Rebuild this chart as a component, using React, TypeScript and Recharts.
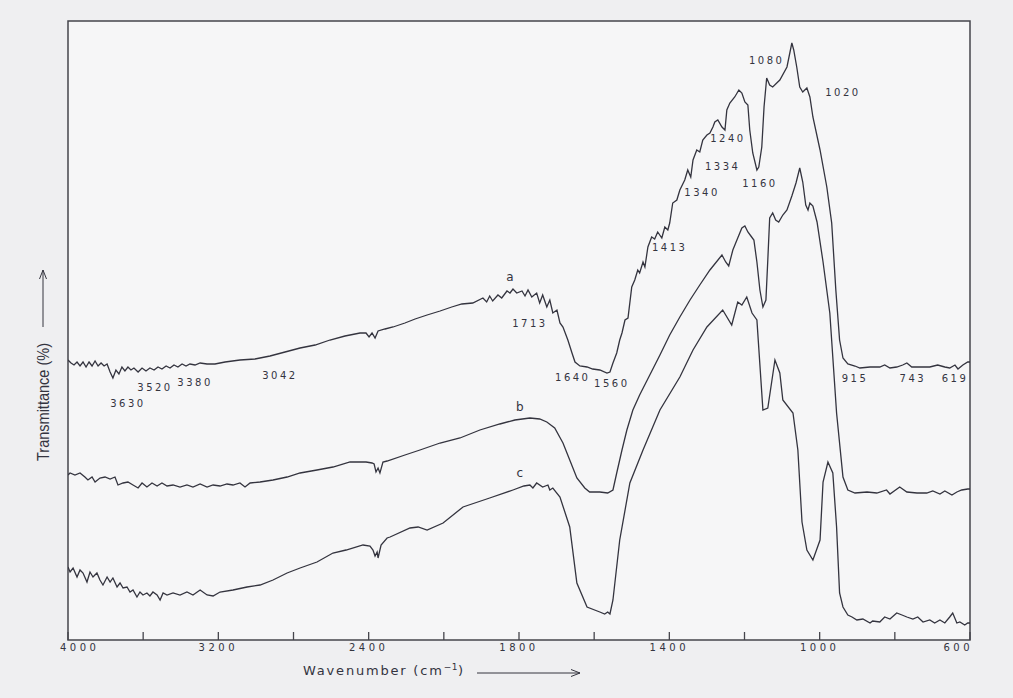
import React from 'react';
import { LineChart, Line, XAxis, YAxis, ReferenceArea, ReferenceDot } from 'recharts';

// Infrared transmittance traces, [wavenumber (cm-1), transmittance] pairs.
const SPECTRUM_A: [number, number][] = [
  [4000, 28.0], [3984, 27.7], [3968, 27.5], [3952, 27.8], [3936, 27.4], [3920, 27.8], [3904, 27.3], [3888, 27.8],
  [3872, 27.4], [3856, 27.9], [3840, 27.4], [3824, 27.7], [3808, 27.4], [3792, 27.6], [3776, 26.8], [3761, 26.2],
  [3745, 27.0], [3729, 26.6], [3713, 27.3], [3697, 26.9], [3681, 27.3], [3665, 27.0], [3649, 27.2], [3627, 26.8],
  [3606, 27.2], [3585, 26.9], [3564, 27.2], [3542, 27.0], [3521, 27.3], [3500, 27.1], [3478, 27.4], [3457, 27.2],
  [3436, 27.5], [3415, 27.3], [3393, 27.6], [3372, 27.4], [3351, 27.6], [3324, 27.5], [3297, 27.7], [3260, 27.6],
  [3218, 27.6], [3164, 27.8], [3085, 28.0], [3005, 28.1], [2925, 28.4], [2845, 28.8], [2765, 29.2], [2685, 29.5],
  [2606, 30.0], [2526, 30.4], [2446, 30.7], [2414, 30.7], [2398, 30.3], [2382, 30.7], [2366, 30.2], [2350, 30.9],
  [2313, 31.1], [2270, 31.3], [2207, 31.7], [2153, 32.1], [2089, 32.5], [2020, 32.9], [1979, 33.3], [1952, 33.6],
  [1923, 33.7], [1896, 34.2], [1886, 33.8], [1878, 34.4], [1870, 33.9], [1856, 34.5], [1846, 34.2], [1832, 34.9],
  [1824, 34.7], [1816, 35.1], [1806, 34.7], [1792, 34.9], [1784, 34.4], [1776, 35.0], [1766, 34.3], [1753, 34.7],
  [1745, 33.7], [1737, 34.5], [1726, 33.3], [1718, 34.0], [1710, 32.7], [1699, 33.0], [1691, 31.7], [1683, 31.3],
  [1670, 30.0], [1659, 28.7], [1651, 27.8], [1638, 27.4], [1619, 27.3], [1604, 27.1], [1585, 27.0], [1566, 26.7],
  [1558, 26.8], [1550, 27.7], [1540, 28.7], [1532, 30.0], [1526, 30.7], [1518, 32.0], [1510, 32.2], [1500, 35.3],
  [1492, 36.0], [1484, 37.0], [1479, 36.7], [1470, 37.8], [1465, 37.3], [1457, 39.3], [1447, 40.3], [1439, 40.1],
  [1431, 40.8], [1420, 40.2], [1412, 41.3], [1404, 41.0], [1399, 41.7], [1391, 43.7], [1380, 44.0], [1372, 45.0],
  [1359, 46.0], [1351, 47.0], [1343, 46.3], [1337, 48.0], [1327, 49.0], [1319, 48.8], [1311, 50.0], [1300, 50.5],
  [1292, 50.7], [1284, 51.3], [1279, 51.8], [1271, 52.0], [1260, 51.3], [1252, 51.0], [1247, 53.0], [1239, 53.7],
  [1226, 54.3], [1215, 55.0], [1207, 54.7], [1199, 53.8], [1191, 53.5], [1186, 51.0], [1178, 48.7], [1167, 47.0],
  [1162, 47.3], [1154, 49.3], [1148, 53.3], [1141, 56.2], [1133, 55.5], [1125, 55.3], [1106, 56.0], [1087, 57.3],
  [1074, 59.7], [1069, 59.0], [1061, 57.3], [1053, 55.3], [1045, 54.8], [1034, 55.2], [1026, 54.3], [1018, 52.3],
  [999, 49.0], [981, 45.3], [968, 41.7], [957, 35.0], [947, 30.0], [938, 28.2], [925, 27.6], [906, 27.4],
  [893, 27.2], [866, 27.3], [840, 27.3], [827, 27.5], [813, 27.2], [795, 27.3], [779, 27.5], [768, 27.7],
  [755, 27.3], [733, 27.3], [707, 27.3], [686, 27.5], [667, 27.3], [654, 27.2], [640, 27.5], [632, 27.1],
  [619, 27.5], [606, 27.8], [600, 27.8],
];

const SPECTRUM_B: [number, number][] = [
  [4000, 16.5], [3989, 16.7], [3963, 16.5], [3936, 16.7], [3910, 16.3], [3894, 16.0], [3872, 16.3], [3856, 15.8],
  [3830, 16.2], [3803, 16.3], [3776, 16.1], [3750, 16.3], [3734, 15.5], [3707, 15.7], [3681, 15.8], [3654, 15.5],
  [3627, 15.2], [3606, 15.7], [3580, 15.3], [3553, 15.7], [3526, 15.4], [3500, 15.7], [3473, 15.4], [3441, 15.5],
  [3404, 15.3], [3367, 15.5], [3335, 15.3], [3297, 15.6], [3260, 15.3], [3228, 15.5], [3191, 15.4], [3154, 15.6],
  [3122, 15.5], [3085, 15.7], [3058, 15.3], [3031, 15.7], [2978, 15.8], [2909, 16.0], [2834, 16.3], [2765, 16.7],
  [2675, 17.0], [2590, 17.3], [2499, 17.8], [2414, 17.8], [2382, 17.7], [2371, 17.6], [2361, 16.8], [2350, 17.2],
  [2340, 16.7], [2324, 17.8], [2302, 17.9], [2207, 18.5], [2127, 19.0], [2020, 19.7], [1957, 20.2], [1904, 21.0],
  [1851, 21.6], [1811, 22.0], [1771, 22.2], [1745, 22.1], [1726, 21.8], [1705, 21.2], [1683, 19.7], [1665, 18.0],
  [1646, 16.2], [1625, 15.2], [1612, 14.8], [1585, 14.8], [1564, 14.7], [1550, 15.0], [1540, 16.7], [1526, 19.0],
  [1513, 21.0], [1497, 23.0], [1479, 24.5], [1452, 26.5], [1425, 28.5], [1399, 30.5], [1372, 32.3], [1345, 34.0],
  [1319, 35.5], [1292, 37.0], [1260, 38.5], [1250, 37.8], [1242, 37.4], [1231, 39.0], [1218, 40.2], [1207, 41.2],
  [1199, 41.4], [1191, 40.8], [1183, 40.4], [1175, 40.0], [1167, 37.8], [1159, 35.0], [1151, 33.3], [1143, 34.0],
  [1138, 38.0], [1133, 42.2], [1125, 42.7], [1117, 42.0], [1109, 41.8], [1098, 42.5], [1087, 43.0], [1074, 44.4],
  [1063, 45.7], [1053, 47.2], [1045, 45.8], [1037, 43.5], [1031, 43.0], [1026, 43.7], [1018, 43.4], [1007, 41.8],
  [991, 37.8], [973, 32.7], [955, 22.7], [938, 16.3], [925, 15.0], [906, 14.7], [874, 14.8], [848, 14.7],
  [822, 15.0], [813, 14.6], [787, 15.3], [768, 14.8], [741, 14.7], [715, 14.7], [699, 14.9], [680, 14.6],
  [667, 14.9], [648, 14.5], [635, 14.8], [622, 15.0], [606, 15.1], [600, 15.1],
];

const SPECTRUM_C: [number, number][] = [
  [4000, 7.3], [3989, 6.8], [3973, 7.2], [3952, 6.3], [3936, 7.0], [3920, 6.7], [3899, 5.8], [3883, 6.8],
  [3867, 6.3], [3846, 6.7], [3830, 6.0], [3814, 5.5], [3792, 6.3], [3776, 5.8], [3761, 6.2], [3739, 5.3],
  [3723, 5.7], [3707, 5.2], [3686, 5.3], [3670, 4.8], [3654, 5.0], [3633, 4.3], [3617, 4.8], [3601, 4.5],
  [3580, 4.7], [3564, 4.4], [3548, 4.8], [3526, 4.5], [3510, 4.0], [3494, 4.7], [3473, 4.5], [3441, 4.7],
  [3404, 4.5], [3367, 4.8], [3335, 4.5], [3297, 5.0], [3260, 4.5], [3228, 4.4], [3191, 4.8], [3122, 5.0],
  [3047, 5.3], [2978, 5.5], [2909, 6.0], [2834, 6.7], [2765, 7.2], [2675, 7.8], [2590, 8.7], [2520, 9.0],
  [2430, 9.5], [2393, 9.4], [2377, 9.0], [2366, 8.4], [2355, 8.8], [2350, 8.2], [2334, 9.5], [2302, 10.2],
  [2286, 10.3], [2180, 11.2], [2137, 11.3], [2089, 11.0], [2004, 11.7], [1949, 13.3], [1878, 14.2], [1816, 15.0],
  [1787, 15.4], [1771, 15.5], [1763, 15.2], [1753, 15.7], [1737, 15.3], [1723, 15.5], [1718, 15.0], [1710, 15.2],
  [1691, 14.3], [1665, 11.3], [1646, 5.7], [1619, 3.3], [1585, 2.8], [1572, 2.6], [1564, 2.8], [1558, 2.6],
  [1550, 4.0], [1532, 10.0], [1505, 15.7], [1470, 19.0], [1425, 23.0], [1372, 26.3], [1337, 29.0], [1300, 31.3],
  [1258, 33.0], [1234, 31.5], [1218, 33.8], [1207, 33.5], [1194, 34.3], [1180, 32.7], [1167, 32.0], [1151, 23.0],
  [1138, 23.2], [1119, 28.0], [1106, 26.7], [1098, 24.0], [1071, 22.7], [1058, 19.0], [1047, 11.8], [1034, 9.0],
  [1018, 8.0], [999, 10.0], [991, 15.8], [978, 17.8], [965, 16.7], [955, 11.3], [947, 4.7], [938, 3.3],
  [925, 2.5], [914, 2.3], [901, 2.0], [885, 2.1], [866, 1.7], [859, 1.9], [840, 1.8], [827, 2.3],
  [813, 2.1], [795, 2.7], [781, 2.5], [768, 2.3], [752, 2.1], [739, 2.3], [725, 1.8], [707, 2.0],
  [694, 1.7], [680, 2.0], [667, 1.7], [654, 2.3], [646, 2.7], [635, 1.7], [627, 1.8], [614, 1.5],
  [606, 1.7], [600, 1.7],
];

// Trace letters and where they sit (wavenumber, transmittance).
const TRACE_NAMES = ['a', 'b', 'c'];
const TRACE_NAME_WN = [1824, 1798, 1798];
const TRACE_NAME_T = [36.3, 23.3, 16.7];

// Band assignments written beside the traces.
const PEAK_LABELS = ['3630', '3520', '3380', '3042', '1713', '1640', '1560', '1413', '1340', '1334', '1240', '1160', '1080', '1020', '915', '743', '619'];
const PEAK_LABEL_WN = [3681, 3537, 3324, 2872, 1771, 1657, 1553, 1399, 1313, 1258, 1244, 1159, 1141, 938, 906, 752, 640];
const PEAK_LABEL_T = [23.7, 25.3, 25.8, 26.5, 31.7, 26.3, 25.7, 39.3, 44.8, 47.4, 50.2, 45.7, 58.0, 54.8, 26.2, 26.2, 26.2];

const AXIS_TICK_WN = [4000, 3600, 3200, 2800, 2400, 2000, 1800, 1600, 1400, 1200, 1000, 800, 600];
const AXIS_LABELLED_WN = [4000, 3200, 2400, 1800, 1400, 1000, 600];

const INK = '#34343f';
const FRAME = '#45454c';
const PAPER = '#efeff1';
const PLOT_BG = '#f6f6f7';
const FONT = '"DejaVu Sans", Arial, sans-serif';

// Chart paper runs 4000-2000 cm-1 at half the scale of 2000-600 cm-1.
const toChartX = (wn: number) => (wn > 2000 ? 2000 + (wn - 2000) / 2 : wn);
const toWavenumber = (u: number) => (u > 2000 ? 2000 + (u - 2000) * 2 : u);

const rows = (spec: [number, number][]) => spec.map(([wn, t]) => ({ x: toChartX(wn), t }));
const traces = [rows(SPECTRUM_A), rows(SPECTRUM_B), rows(SPECTRUM_C)];

const AxisTick = (props: any) => {
  const { x, y, payload } = props;
  const wn = Math.round(toWavenumber(payload.value));
  const labelled = AXIS_LABELLED_WN.includes(wn);
  let anchor: 'middle' | 'start' | 'end' = 'middle';
  let tx = x;
  if (wn === 4000) {
    anchor = 'start';
    tx = x - 8;
  } else if (wn === 600) {
    anchor = 'end';
    tx = x + 3;
  }
  return (
    <g>
      <line x1={x} x2={x} y1={y - 8} y2={y} stroke={FRAME} strokeWidth={1.3} />
      {labelled && (
        <text x={tx} y={y + 11} textAnchor={anchor} fontSize={10} letterSpacing={3.5} fill={INK} fontFamily={FONT}>
          {wn}
        </text>
      )}
    </g>
  );
};

// Both axis titles, placed from the x-axis box (plot bottom-left corner).
const AxisTitles = (props: any) => {
  const vb = props.viewBox || { x: 68, y: 640 };
  const x0 = vb.x + 235;
  const y0 = vb.y + 35;
  const yx = vb.x - 19;
  const yc = vb.y - 238;
  return (
    <g>
      <text x={x0} y={y0} fontSize={13} letterSpacing={1.8} fill={INK} fontFamily={FONT}>
        Wavenumber (cm
        <tspan dy={-5} fontSize={9} letterSpacing={0.5}>
          −1
        </tspan>
        <tspan dy={5}>)</tspan>
      </text>
      <line x1={x0 + 174} y1={y0 - 2} x2={x0 + 277} y2={y0 - 2} stroke={INK} strokeWidth={1} />
      <polyline
        points={`${x0 + 268},${y0 - 5.5} ${x0 + 277},${y0 - 2} ${x0 + 268},${y0 + 1.5}`}
        fill="none"
        stroke={INK}
        strokeWidth={1}
      />
      <text
        transform={`translate(${yx}, ${yc}) rotate(-90)`}
        textAnchor="middle"
        fontSize={16}
        textLength={118}
        lengthAdjust="spacingAndGlyphs"
        fill={INK}
        fontFamily='"Liberation Sans", Arial, sans-serif'
      >
        Transmittance (%)
      </text>
      <line x1={yx - 6} y1={yc - 75} x2={yx - 6} y2={yc - 132} stroke={INK} strokeWidth={1} />
      <polyline
        points={`${yx - 9.5},${yc - 123} ${yx - 6},${yc - 132} ${yx - 2.5},${yc - 123}`}
        fill="none"
        stroke={INK}
        strokeWidth={1}
      />
    </g>
  );
};

const textMark = (text: string, size: number, spacing: number) => (p: any) => (
  <text
    x={p.cx}
    y={p.cy}
    dy="0.35em"
    textAnchor="middle"
    fontSize={size}
    letterSpacing={spacing}
    fill={INK}
    fontFamily={FONT}
  >
    {text}
  </text>
);

export default function App() {
  return (
    <div style={{ position: 'absolute', left: 0, top: 0, width: 1013, height: 698, background: PAPER, overflow: 'hidden' }}>
      <LineChart width={1013} height={698} margin={{ top: 21, right: 43, bottom: 28, left: 68 }}>
        <XAxis
          type="number"
          dataKey="x"
          domain={[600, 3000]}
          reversed
          ticks={AXIS_TICK_WN.map(toChartX)}
          tick={<AxisTick />}
          tickLine={false}
          axisLine={false}
          tickSize={0}
          tickMargin={0}
          height={30}
          interval={0}
          allowDataOverflow
          label={{ content: (p: any) => <AxisTitles {...p} /> }}
        />
        <YAxis type="number" dataKey="t" domain={[0, 61.9]} hide allowDataOverflow />
        <ReferenceArea x1={600} x2={3000} y1={0} y2={61.9} fill={PLOT_BG} fillOpacity={1} stroke={FRAME} strokeWidth={1.5} />
        {traces.map((data, i) => (
          <Line
            key={TRACE_NAMES[i]}
            data={data}
            dataKey="t"
            type="linear"
            stroke={INK}
            strokeWidth={1.3}
            dot={false}
            activeDot={false}
            isAnimationActive={false}
          />
        ))}
        {TRACE_NAMES.map((name, i) => (
          <ReferenceDot
            key={`name-${name}`}
            x={toChartX(TRACE_NAME_WN[i])}
            y={TRACE_NAME_T[i]}
            r={1}
            shape={textMark(name, 12, 0)}
          />
        ))}
        {PEAK_LABELS.map((label, i) => (
          <ReferenceDot
            key={`peak-${label}`}
            x={toChartX(PEAK_LABEL_WN[i])}
            y={PEAK_LABEL_T[i]}
            r={1}
            shape={textMark(label, 10, 2.5)}
          />
        ))}
      </LineChart>
    </div>
  );
}
